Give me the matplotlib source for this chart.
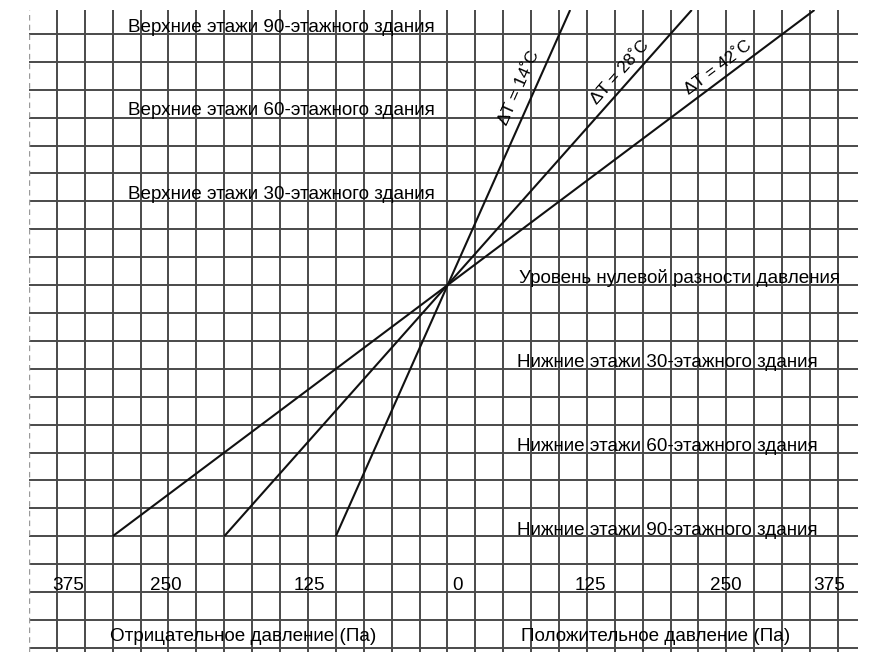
import numpy as np
import matplotlib.pyplot as plt

plt.rcParams['font.family'] = ['Liberation Sans', 'DejaVu Sans']

# pressure lines (Pa) vs height (grid cells, 0 = neutral pressure level)
delta_t = [14, 28, 42]
bottom_level = -9
bottom_pressure = [-100, -200, -300]
top_level = 9.86
top_pressure = [110, 219, 329]

upper_labels = ['Верхние этажи 90-этажного здания',
                'Верхние этажи 60-этажного здания',
                'Верхние этажи 30-этажного здания']
upper_levels = [9, 6, 3]

lower_labels = ['Уровень нулевой разности давления',
                'Нижние этажи 30-этажного здания',
                'Нижние этажи 60-этажного здания',
                'Нижние этажи 90-этажного здания']
lower_levels = [0, -3, -6, -9]

scale_values = [-375, -250, -125, 0, 125, 250, 375]
scale_x = [-354, -267, -138, 4, 114, 235, 328]

fs = 13.6

fig = plt.figure(figsize=(8.72, 6.52), dpi=100)
ax = fig.add_axes([29 / 872, 0, (858 - 29) / 872, 642 / 652])
ax.set_xlim(-375, 368)
ax.set_ylim(-13.15, 9.86)

grid_c = '#4a4a4a'
for x in np.arange(-350, 351, 25):
    ax.axvline(x, color=grid_c, lw=1.4, zorder=1)
for y in np.arange(-13, 10, 1):
    ax.axhline(y, color=grid_c, lw=1.4, zorder=1)
ax.axvline(-375, color='#9a9a9a', lw=1.0, ls=(0, (4, 3)), zorder=1)

for s in ax.spines.values():
    s.set_visible(False)
ax.set_xticks([])
ax.set_yticks([])

for dt, pb, pt in zip(delta_t, bottom_pressure, top_pressure):
    ax.plot([pb, pt], [bottom_level, top_level], color='#111111', lw=1.5,
            zorder=3, solid_capstyle='butt')

# rotated line labels
lab_x = [64.5, 155, 243]
lab_y = [7.06, 7.63, 7.81]
for dt, pb, lx, ly in zip(delta_t, bottom_pressure, lab_x, lab_y):
    ang = np.degrees(np.arctan2(-bottom_level, -pb))
    ax.text(lx, ly, f'ΔT = {dt}˚C', rotation=ang, transform_rotates_text=True,
            rotation_mode='anchor', ha='center', va='center', fontsize=12.5,
            zorder=4)

for lab, lev in zip(upper_labels, upper_levels):
    ax.text(-286, lev + 0.08, lab, ha='left', va='baseline', fontsize=fs,
            zorder=4)
for i, (lab, lev) in enumerate(zip(lower_labels, lower_levels)):
    ax.text(64.5 if i == 0 else 62, lev + 0.06, lab, ha='left', va='baseline',
            fontsize=fs, zorder=4)

for v, x in zip(scale_values, scale_x):
    ax.text(x, -10.93, str(abs(v)), ha='left', va='baseline', fontsize=fs,
            zorder=4)

ax.text(-183, -12.76, 'Отрицательное давление (Па)', ha='center',
        va='baseline', fontsize=fs, zorder=4)
ax.text(187, -12.76, 'Положительное давление (Па)', ha='center',
        va='baseline', fontsize=fs, zorder=4)

fig.savefig('out.png', dpi=100, facecolor='white')
